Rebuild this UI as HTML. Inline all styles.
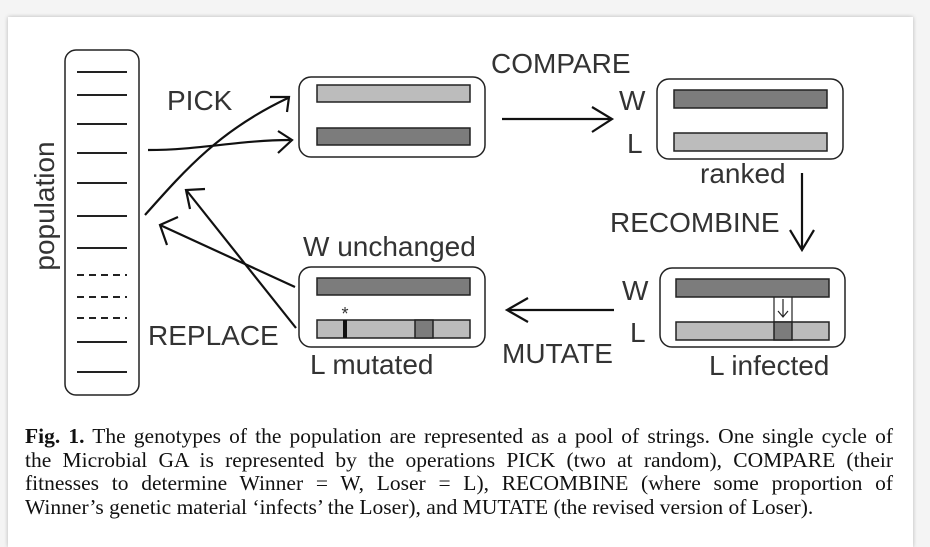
<!DOCTYPE html>
<html><head><meta charset="utf-8"><style>
html,body{margin:0;padding:0;background:#f4f4f4;width:930px;height:534px;overflow:hidden}
.card{position:absolute;left:8px;top:17px;width:905px;height:530px;background:#fff;box-shadow:0 0 4px rgba(0,0,0,.25)}
svg{position:absolute;left:0;top:0}
.cap{position:absolute;left:25px;top:425px;width:868px;font-family:"Liberation Serif",serif;font-size:21.5px;line-height:23.5px;color:#111;letter-spacing:0}
.cap div{text-align:justify;text-align-last:justify;white-space:nowrap;}
.cap div.last{text-align-last:left}
</style></head><body>
<div class="card"></div>
<svg width="930" height="534" xmlns="http://www.w3.org/2000/svg" font-family="Liberation Sans, sans-serif" fill="none" stroke="#222">
<!-- population -->
<rect x="65" y="50" width="74" height="345" rx="11" stroke-width="1.5"/>
<g stroke-width="2">
<line x1="77" y1="72" x2="127" y2="72"/><line x1="77" y1="95" x2="127" y2="95"/>
<line x1="77" y1="124" x2="127" y2="124"/><line x1="77" y1="153" x2="127" y2="153"/>
<line x1="77" y1="183" x2="127" y2="183"/><line x1="77" y1="216" x2="127" y2="216"/>
<line x1="77" y1="248" x2="127" y2="248"/>
<g stroke-dasharray="7,5"><line x1="77" y1="275" x2="127" y2="275"/><line x1="77" y1="297" x2="127" y2="297"/><line x1="77" y1="318" x2="127" y2="318"/></g>
<line x1="77" y1="342" x2="127" y2="342"/><line x1="77" y1="372" x2="127" y2="372"/>
</g>
<g font-size="28" fill="#333" stroke="none">
<text x="54" y="206" transform="rotate(-90 54 206)" text-anchor="middle">population</text>
<text x="167" y="110">PICK</text>
<text x="491" y="73">COMPARE</text>
<text x="619" y="110">W</text>
<text x="627" y="153">L</text>
<text x="700" y="183">ranked</text>
<text x="610" y="232">RECOMBINE</text>
<text x="622" y="300">W</text>
<text x="630" y="342">L</text>
<text x="709" y="375">L infected</text>
<text x="502" y="363">MUTATE</text>
<text x="303" y="256">W unchanged</text>
<text x="148" y="345">REPLACE</text>
<text x="310" y="374">L mutated</text>
</g>
<!-- pick box -->
<rect x="299" y="77" width="186" height="80" rx="12" stroke-width="1.5"/>
<rect x="317" y="85" width="153" height="17" fill="#bcbcbc" stroke-width="1.5"/>
<rect x="317" y="128" width="153" height="17" fill="#7c7c7c" stroke-width="1.5"/>
<g stroke-width="2.2" stroke="#111">
<path d="M148 150 C200 150 240 140 290 140"/><path d="M278 131 L292 140 L278 153"/>
<path d="M145 215 C185 170 220 130 288 98"/><path d="M270 97 L289 97 L287 112"/>
<path d="M295 287 L160 225"/><path d="M178 217 L160 225 L167 245"/>
<path d="M296 328 L187 191"/><path d="M205 189 L186 190 L190 209"/>
<path d="M502 119 L612 119"/><path d="M592 107 L612 119 L592 132"/>
<path d="M802 173 L802 249"/><path d="M790 230 L802 250 L814 230"/>
<path d="M614 310 L508 310"/><path d="M528 298 L507 310 L528 322"/>
</g>
<rect x="657" y="79" width="186" height="80" rx="12" stroke-width="1.5"/>
<rect x="674" y="90" width="153" height="18" fill="#7c7c7c" stroke-width="1.5"/>
<rect x="674" y="133" width="153" height="18" fill="#bcbcbc" stroke-width="1.5"/>
<!-- infected -->
<rect x="660" y="268" width="185" height="79" rx="12" stroke-width="1.5"/>
<rect x="676" y="279" width="153" height="18" fill="#7c7c7c" stroke-width="1.5"/>
<rect x="676" y="322" width="153" height="18" fill="#bcbcbc" stroke-width="1.5"/>
<rect x="774" y="322" width="18" height="18" fill="#7c7c7c" stroke-width="1.5"/>
<line x1="774" y1="297" x2="774" y2="322" stroke-width="1.2"/><line x1="792" y1="297" x2="792" y2="322" stroke-width="1.2"/>
<path d="M783 299 L783 316 M778 311 L783 317 L788 311" stroke-width="1.2"/>
<!-- mutated -->
<rect x="299" y="267" width="186" height="80" rx="12" stroke-width="1.5"/>
<rect x="317" y="278" width="153" height="17" fill="#7c7c7c" stroke-width="1.5"/>
<rect x="317" y="320" width="153" height="18" fill="#bcbcbc" stroke-width="1.5"/>
<rect x="415" y="320" width="18" height="18" fill="#7c7c7c" stroke-width="1.5"/>
<rect x="343" y="320" width="4" height="18" fill="#111" stroke="none"/>
<text x="345" y="320" font-size="18" text-anchor="middle" fill="#333" stroke="none">*</text>
</svg>
<div class="cap">
<div><b>Fig. 1.</b> The genotypes of the population are represented as a pool of strings. One single cycle of</div>
<div>the Microbial GA is represented by the operations PICK (two at random), COMPARE (their</div>
<div>fitnesses to determine Winner = W, Loser = L), RECOMBINE (where some proportion of</div>
<div class="last">Winner’s genetic material ‘infects’ the Loser), and MUTATE (the revised version of Loser).</div>
</div>
</body></html>
